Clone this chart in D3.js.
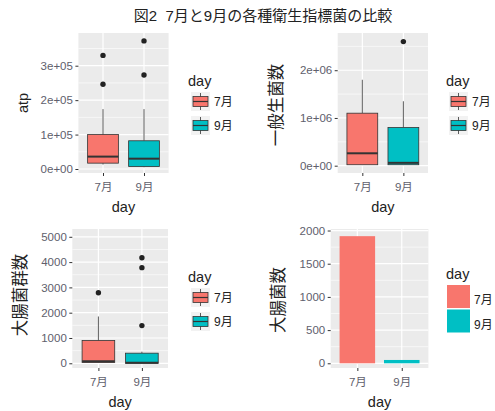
<!DOCTYPE html>
<html>
<head>
<meta charset="utf-8">
<script src="https://cdn.jsdelivr.net/npm/d3@7"></script>
<style>
body{margin:0;background:#fff}
text{font-family:"Liberation Sans","Noto Sans CJK JP",sans-serif}
</style>
</head>
<body>
<svg width="495" height="411"></svg>
<script>
const title = '図2\u00a0\u00a07月と9月の各種衛生指標菌の比較';
const days = ['7月','9月'];
const dayColors = ['#F8766D','#00BFC4'];

// box stats per day: [lower whisker, q1, median, q3, upper whisker]
const atpBox = [[13000,17000,36000,100000,174000],[5000,7000,30000,82000,174000]];
const atpOutliers = [[330000,246000],[372000,273000]];
const atpDomain = [-11600,395000];
const atpTicks = [0,1e5,2e5,3e5];
const atpTickLabels = ['0e+00','1e+05','2e+05','3e+05'];

const genBox = [[20000,20000,260000,1100000,1800000],[20000,20000,60000,800000,1350000]];
const genOutliers = [[],[2600000]];
const genDomain = [-153000,2780000];
const genTicks = [0,1e6,2e6];
const genTickLabels = ['0e+00','1e+06','2e+06'];

const colBox = [[20,30,80,900,1850],[0,0,20,400,460]];
const colOutliers = [[2790],[4170,3780,1490]];
const colDomain = [-186,5308];
const colTicks = [0,1000,2000,3000,4000,5000];
const colTickLabels = ['0','1000','2000','3000','4000','5000'];

const ecoliMeans = [1915,50];
const ecoliDomain = [-71,2023];
const ecoliTicks = [0,500,1000,1500,2000];
const ecoliTickLabels = ['0','500','1000','1500','2000'];

function whenLoaded(){
    const svg = d3.select('svg');
    svg.append('rect').attr('width',495).attr('height',411).attr('fill','#fff');

    svg.append('text')
    .attr('x',263).attr('y',21)
    .attr('text-anchor','middle')
    .style('font-size','15px')
    .attr('fill','#222')
    .text(title);

    // panel frame: background, grid, axes, titles
    const drawFrame = p => {
        const g = svg.append('g');
        const x = d3.scalePoint().domain(days).range([p.x0,p.x1]).padding(0.6);
        const y = d3.scaleLinear().domain(p.domain).range([p.y1,p.y0]);

        g.append('rect')
        .attr('x',p.x0).attr('y',p.y0)
        .attr('width',p.x1-p.x0).attr('height',p.y1-p.y0)
        .attr('fill','#EBEBEB');

        const step = p.ticks[1]-p.ticks[0];
        const minors = d3.range(p.ticks[0]-step/2, p.domain[1], step)
            .filter(v => v > p.domain[0] && v < p.domain[1]);
        g.selectAll('.minor').data(minors).enter().append('line')
        .attr('x1',p.x0).attr('x2',p.x1)
        .attr('y1',d => y(d)).attr('y2',d => y(d))
        .attr('stroke','#fff').attr('stroke-width',0.6);
        g.selectAll('.major').data(p.ticks).enter().append('line')
        .attr('x1',p.x0).attr('x2',p.x1)
        .attr('y1',d => y(d)).attr('y2',d => y(d))
        .attr('stroke','#fff').attr('stroke-width',1.2);
        g.selectAll('.vmajor').data(days).enter().append('line')
        .attr('x1',d => x(d)).attr('x2',d => x(d))
        .attr('y1',p.y0).attr('y2',p.y1)
        .attr('stroke','#fff').attr('stroke-width',1.2);

        const yAxis = d3.axisLeft(y).tickValues(p.ticks).tickSize(3).tickPadding(2.5)
        .tickFormat((d,i) => p.labels[i]);
        const yAxisG = g.append('g').attr('transform',`translate(${p.x0},0)`).call(yAxis);
        yAxisG.select('.domain').remove();
        yAxisG.selectAll('line').attr('stroke','#333');
        yAxisG.selectAll('text').attr('fill','#60606c').style('font-size','11.5px');

        const xAxisG = g.append('g').attr('transform',`translate(0,${p.y1})`)
        .call(d3.axisBottom(x).tickSize(3).tickPadding(7));
        xAxisG.select('.domain').remove();
        xAxisG.selectAll('line').attr('stroke','#333');
        xAxisG.selectAll('text').attr('fill','#60606c').style('font-size','11.5px');

        g.append('text')
        .attr('x',(p.x0+p.x1)/2).attr('y',p.y1+39)
        .attr('text-anchor','middle')
        .style('font-size','14.5px').attr('fill','#222')
        .text('day');

        g.append('text')
        .attr('transform',`translate(${p.ylabX},${p.ylabY}) rotate(-90)`)
        .attr('text-anchor','middle')
        .attr('dominant-baseline','central')
        .style('font-size',p.ylabSize).attr('fill','#222')
        .text(p.ylab);

        return {g,x,y};
    };

    const drawBoxes = (p, box, outliers) => {
        const {g,x,y} = drawFrame(p);
        const bw = x.step()*0.75;
        box.forEach((b,i) => {
            const cx = x(days[i]);
            g.append('line').attr('x1',cx).attr('x2',cx)
            .attr('y1',y(b[3])).attr('y2',y(b[4]))
            .attr('stroke','#333').attr('stroke-width',0.8);
            g.append('line').attr('x1',cx).attr('x2',cx)
            .attr('y1',y(b[1])).attr('y2',y(b[0]))
            .attr('stroke','#333').attr('stroke-width',0.8);
            g.append('rect')
            .attr('x',cx-bw/2).attr('width',bw)
            .attr('y',y(b[3])).attr('height',Math.max(0.5,y(b[1])-y(b[3])))
            .attr('fill',dayColors[i]).attr('stroke','#333').attr('stroke-width',0.8);
            g.append('line').attr('x1',cx-bw/2).attr('x2',cx+bw/2)
            .attr('y1',y(b[2])).attr('y2',y(b[2]))
            .attr('stroke','#333').attr('stroke-width',2);
            g.selectAll(null).data(outliers[i]).enter().append('circle')
            .attr('cx',cx).attr('cy',d => y(d)).attr('r',2.7)
            .attr('fill','#222');
        });

        // legend
        const lg = svg.append('g').attr('transform',`translate(${p.lx},${p.ly})`);
        lg.append('text').attr('x',-3).attr('y',-6)
        .style('font-size','14.5px').attr('fill','#222').text('day');
        days.forEach((d,i) => {
            const ky = i*24;
            lg.append('rect').attr('x',0).attr('y',ky).attr('width',19).attr('height',19).attr('fill','#F2F2F2');
            lg.append('line').attr('x1',9.5).attr('x2',9.5).attr('y1',ky+1).attr('y2',ky+18)
            .attr('stroke','#333').attr('stroke-width',0.8);
            lg.append('rect').attr('x',2).attr('y',ky+4.5).attr('width',15).attr('height',10)
            .attr('fill',dayColors[i]).attr('stroke','#333').attr('stroke-width',0.8);
            lg.append('line').attr('x1',2).attr('x2',17).attr('y1',ky+9.5).attr('y2',ky+9.5)
            .attr('stroke','#333').attr('stroke-width',1.2);
            lg.append('text').attr('x',23).attr('y',ky+10)
            .attr('dominant-baseline','central')
            .style('font-size','12px').attr('fill','#222').text(d);
        });
    };

    drawBoxes({x0:78.4,x1:168.6,y0:33,y1:173,domain:atpDomain,ticks:atpTicks,labels:atpTickLabels,
        ylab:'atp',ylabX:23,ylabY:103,ylabSize:'14.5px',lx:191,ly:92}, atpBox, atpOutliers);
    drawBoxes({x0:337.7,x1:428,y0:33,y1:173,domain:genDomain,ticks:genTicks,labels:genTickLabels,
        ylab:'一般生菌数',ylabX:276,ylabY:105,ylabSize:'16.5px',lx:449,ly:92}, genBox, genOutliers);
    drawBoxes({x0:72.3,x1:168,y0:229,y1:368,domain:colDomain,ticks:colTicks,labels:colTickLabels,
        ylab:'大腸菌群数',ylabX:20,ylabY:295,ylabSize:'16.5px',lx:191,ly:288}, colBox, colOutliers);

    // bar panel
    const p4 = {x0:330.7,x1:428.4,y0:229,y1:368,domain:ecoliDomain,ticks:ecoliTicks,labels:ecoliTickLabels,
        ylab:'大腸菌数',ylabX:278,ylabY:300,ylabSize:'16.5px'};
    const f4 = drawFrame(p4);
    const barW = f4.x.step()*0.8;
    f4.g.selectAll('.bar').data(ecoliMeans).enter().append('rect')
    .attr('x',(d,i) => f4.x(days[i])-barW/2)
    .attr('width',barW)
    .attr('y',d => f4.y(d))
    .attr('height',d => f4.y(0)-f4.y(d))
    .attr('fill',(d,i) => dayColors[i]);

    const lg4 = svg.append('g').attr('transform','translate(447,285)');
    lg4.append('text').attr('x',-1).attr('y',-6)
    .style('font-size','14.5px').attr('fill','#222').text('day');
    days.forEach((d,i) => {
        lg4.append('rect').attr('x',0).attr('y',i*24.5).attr('width',23).attr('height',23)
        .attr('fill',dayColors[i]);
        lg4.append('text').attr('x',27).attr('y',i*24.5+15)
        .attr('dominant-baseline','central')
        .style('font-size','12px').attr('fill','#222').text(d);
    });
}

window.onload = whenLoaded;
</script>
</body>
</html>
